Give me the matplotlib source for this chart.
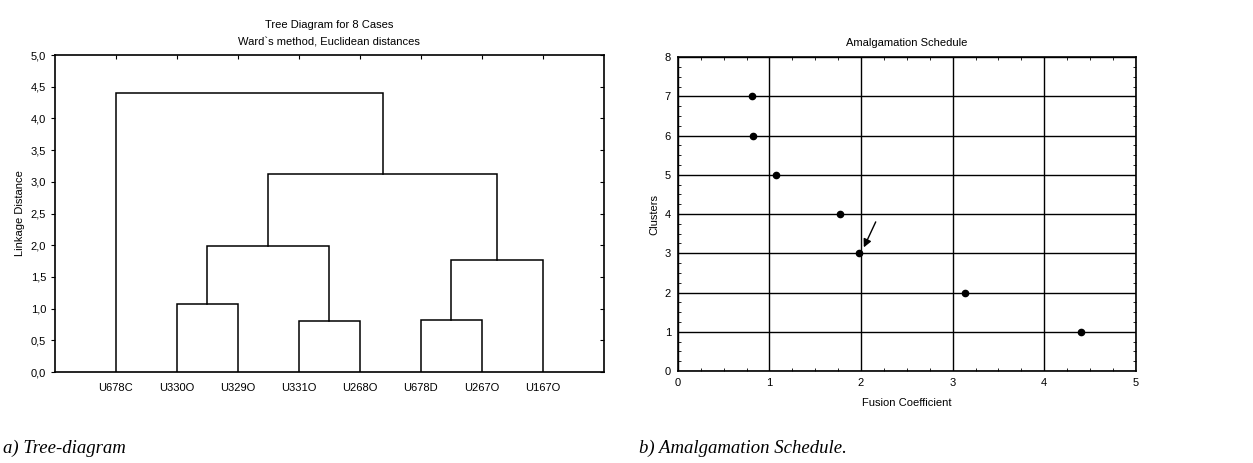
import matplotlib
matplotlib.use("Agg")
import matplotlib.pyplot as plt
from matplotlib.ticker import FuncFormatter, MultipleLocator

plt.rcParams['font.family'] = ['Liberation Sans', 'DejaVu Sans']

# cases in dendrogram order
leaves = ["U678C", "U330O", "U329O", "U331O", "U268O", "U678D", "U267O", "U167O"]
# merges: (cluster a, cluster b, linkage distance); new clusters numbered from 8
merge_a = [3, 5, 1, 9, 10, 12, 0]
merge_b = [4, 6, 2, 7, 8, 11, 13]
merge_dist = [0.81, 0.82, 1.07, 1.77, 1.98, 3.13, 4.40]
# amalgamation schedule
n_clusters = [7, 6, 5, 4, 3, 2, 1]

comma = FuncFormatter(lambda v, p: ("%.1f" % v).replace(".", ","))

fig = plt.figure(figsize=(12.53, 4.63), dpi=100)

# ---- a) tree diagram
ax1 = fig.add_axes([0.0439, 0.1965, 0.438, 0.6847])
xpos = {i: i + 1 for i in range(len(leaves))}
ypos = {i: 0.0 for i in range(len(leaves))}
for k, (a, b, d) in enumerate(zip(merge_a, merge_b, merge_dist)):
    new = len(leaves) + k
    ax1.plot([xpos[a], xpos[a], xpos[b], xpos[b]], [ypos[a], d, d, ypos[b]],
             color="black", lw=1.1, solid_joinstyle="miter")
    xpos[new] = (xpos[a] + xpos[b]) / 2.0
    ypos[new] = d

ax1.set_xlim(0, 9)
ax1.set_ylim(0, 5)
ax1.set_xticks(range(1, len(leaves) + 1))
ax1.set_xticklabels(leaves, fontsize=8)
ax1.yaxis.set_major_locator(MultipleLocator(0.5))
ax1.yaxis.set_major_formatter(comma)
ax1.tick_params(axis="y", labelsize=8, direction="out", length=3, right=True)
ax1.tick_params(axis="x", top=True, bottom=False, direction="in", length=3, pad=8)
for t in ax1.yaxis.get_ticklines()[1::2]:
    t.set_marker(0)
ax1.set_ylabel("Linkage Distance", fontsize=8)
ax1.set_title("Tree Diagram for 8 Cases\nWard`s method, Euclidean distances",
              fontsize=8, linespacing=1.9, pad=7)
for s in ax1.spines.values():
    s.set_linewidth(1.2)

# ---- b) amalgamation schedule
ax2 = fig.add_axes([0.541, 0.1987, 0.3655, 0.678])
ax2.set_xlim(0, 5)
ax2.set_ylim(0, 8)
ax2.xaxis.set_major_locator(MultipleLocator(1))
ax2.yaxis.set_major_locator(MultipleLocator(1))
ax2.xaxis.set_minor_locator(MultipleLocator(0.25))
ax2.yaxis.set_minor_locator(MultipleLocator(0.25))
ax2.grid(True, which="major", color="black", lw=1.0)
ax2.set_axisbelow(True)
ax2.plot(merge_dist, n_clusters, "o", color="black", ms=4.5, zorder=3)
ax2.tick_params(which="both", direction="in", top=True, right=True, labelsize=8)
ax2.tick_params(which="major", length=0, pad=5)
ax2.tick_params(which="minor", length=2)
ax2.set_xlabel("Fusion Coefficient", fontsize=8, labelpad=7)
ax2.set_ylabel("Clusters", fontsize=8)
ax2.set_title("Amalgamation Schedule", fontsize=8, pad=8)
for s in ax2.spines.values():
    s.set_linewidth(1.2)

# arrow pointing at the 3-cluster step
ax2.annotate("", xy=(merge_dist[4] + 0.05, n_clusters[4] + 0.15),
             xytext=(merge_dist[4] + 0.18, n_clusters[4] + 0.8),
             arrowprops=dict(arrowstyle="-|>", color="black", lw=1.0,
                             mutation_scale=12, shrinkA=0, shrinkB=0))

# captions
cap = dict(fontsize=13.5, style="italic", family=["Liberation Serif", "DejaVu Serif"],
           va="center", ha="left")
fig.text(0.002, 0.032, "a) Tree-diagram", **cap)
fig.text(0.510, 0.032, "b) Amalgamation Schedule.", **cap)

fig.savefig("out.png", dpi=100, facecolor="white")
